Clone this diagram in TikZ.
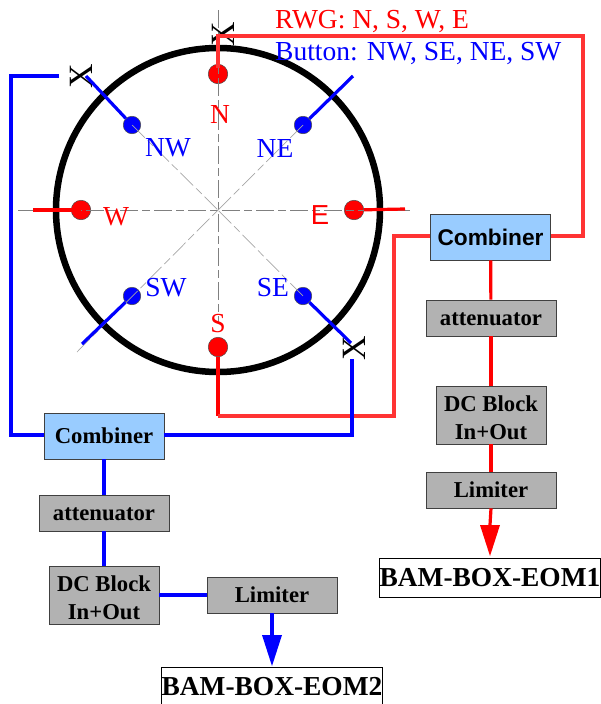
\documentclass[tikz,border=0pt]{standalone}
\usepackage{fontspec}
\setmainfont{Liberation Serif}
\setsansfont{Liberation Sans}
\usepackage{tikz}
\definecolor{lineRed}{RGB}{255,51,51}
\definecolor{boxBlue}{RGB}{153,204,255}
\definecolor{boxGray}{RGB}{178,178,178}
\begin{document}
\begin{tikzpicture}[x=1pt,y=1pt]
\tikzstyle{every node}+=[inner sep=0pt]
\tikzstyle{guide}=[gray,line width=0.7pt,dash pattern=on 18pt off 4pt on 8pt off 4pt]
\tikzstyle{diagguide}=[gray!70,line width=0.7pt,dash pattern=on 18pt off 4pt on 8pt off 4pt]
\tikzstyle{redport}=[circle,draw=black!70,line width=0.5pt,fill=red,minimum size=19.5pt]
\tikzstyle{blueport}=[circle,draw=black!70,line width=0.5pt,fill=blue,minimum size=17.5pt]
\tikzstyle{redlabel}=[text=red,font=\fontsize{27.5}{27.5}\selectfont]
\tikzstyle{bluelabel}=[text=blue,font=\fontsize{27.5}{27.5}\selectfont]
\tikzstyle{combiner}=[draw=black!75,line width=0.9pt,fill=boxBlue,minimum width=120pt,minimum height=46pt]
\tikzstyle{grayblock}=[draw=black!75,line width=0.6pt,fill=boxGray,minimum width=130pt,minimum height=36pt,font=\fontsize{22.7}{28}\selectfont\bfseries,align=center]
\tikzstyle{singleblock}=[grayblock,text height=16pt]
\tikzstyle{dcblock}=[grayblock,minimum width=110pt,minimum height=58pt]
\tikzstyle{output}=[draw=black,line width=0.6pt,fill=white,minimum width=221pt,minimum height=39pt,font=\fontsize{27.4}{27.4}\selectfont\bfseries]
\tikzstyle{redline}=[lineRed,line width=3.2pt]
\tikzstyle{blueline}=[blue,line width=3.2pt]
\tikzstyle{crossmark}=[rotate=90,font=\fontsize{34}{34}\selectfont]
\useasboundingbox (0,0) rectangle (600,-704);
\coordinate (center) at (218,-210);
\coordinate (guideN) at (218,-10);
\coordinate (guideS) at (218,-322);
\coordinate (guideW) at (18,-210);
\coordinate (guideE) at (410,-210);
\coordinate (guideNW) at (132,-125);
\coordinate (guideNE) at (303,-125);
\coordinate (guideSW) at (77,-352);
\coordinate (guideSE) at (303,-296);
\draw [black,line width=6.5pt] (center) circle (162);
\node [redport] (portN) at (218,-74) {};
\node [redport] (portS) at (218,-347) {};
\node [redport] (portW) at (81,-210) {};
\node [redport] (portE) at (354,-210) {};
\node [blueport] (portNW) at (132,-125) {};
\node [blueport] (portNE) at (303,-125) {};
\node [blueport] (portSW) at (132,-296) {};
\node [blueport] (portSE) at (303,-296) {};
\draw [guide] (guideN) -- (guideS);
\draw [guide] (guideW) -- (guideE);
\draw [diagguide] (guideNW) -- (center);
\draw [diagguide] (guideNE) -- (center);
\draw [diagguide] (guideSW) -- (center);
\draw [diagguide] (guideSE) -- (center);
\node [redlabel] (labelN) at (220,-114) {N};
\node [redlabel] (labelS) at (218,-324) {S};
\node [redlabel] (labelW) at (116,-217) {W};
\node [redlabel,font=\sffamily\fontsize{27.5}{27.5}\selectfont] (labelE) at (320,-215) {E};
\node [bluelabel] (labelNW) at (168,-148) {NW};
\node [bluelabel] (labelNE) at (275,-148) {NE};
\node [bluelabel] (labelSW) at (166,-288) {SW};
\node [bluelabel] (labelSE) at (273,-288) {SE};
\node [redlabel,anchor=west] (legendRed) at (275,-22) {RWG: N, S, W, E};
\node [bluelabel,anchor=west] (legendBlue) at (275,-54) {Button: NW, SE, NE, SW};
\node [crossmark] (crossN) at (223,-34) {X};
\node [crossmark] (crossNW) at (81,-76) {X};
\node [crossmark] (crossSE) at (354,-348) {X};
\node [combiner,font=\sffamily\fontsize{22.7}{22.7}\selectfont\bfseries] (combinerRed) at (490.5,-237) {Combiner};
\node [singleblock] (attRed) at (491,-318) {attenuator};
\node [dcblock] (blockRed) at (491,-415) {\rule{0pt}{21pt}DC Block\\In+Out};
\node [singleblock] (limiterRed) at (491,-490) {Limiter};
\node [output] (outRed) at (490,-577.5) {BAM-BOX-EOM1};
\node [combiner,font=\fontsize{22.7}{22.7}\selectfont\bfseries] (combinerBlue) at (104,-436) {Combiner};
\node [singleblock] (attBlue) at (104,-513) {attenuator};
\node [dcblock] (blockBlue) at (104,-595) {\rule{0pt}{21pt}DC Block\\In+Out};
\node [singleblock] (limiterBlue) at (272,-595) {Limiter};
\node [output] (outBlue) at (272,-686.5) {BAM-BOX-EOM2};
\coordinate (stubW) at (33,-210);
\coordinate (stubE) at (405,-209);
\coordinate (stubNE) at (353,-76);
\coordinate (stubSW) at (82,-344);
\coordinate (endNW) at (86,-76);
\coordinate (endSE) at (351,-343);
\coordinate (wireN) at (218,-68);
\coordinate (wireNW) at (59,-76);
\coordinate (wireSE) at (352,-359);
\coordinate (tipRed) at (490,-556);
\coordinate (tipBlue) at (272,-666);
\draw [redline,red] (portW.center) -- (stubW);
\draw [redline,red] (portE) -- (stubE);
\draw [redline] (wireN) -- (218,-36) -- (583,-36) -- (583,-236) -- (combinerRed.east |- 0,-236);
\draw [redline,red] (portS) -- (218,-416);
\draw [redline] (218,-416) -- (394,-416) -- (394,-236) -- (combinerRed.west |- 0,-236);
\draw [redline,red] (combinerRed) -- (attRed);
\draw [redline,red] (attRed) -- (blockRed);
\draw [redline,red] (blockRed) -- (limiterRed);
\draw [redline,red] (limiterRed.south) -- (490,-525);
\fill [red] (tipRed) -- (480,-525) -- (500,-525) -- cycle;
\draw [blueline] (portNW) -- (endNW);
\draw [blueline] (portNE) -- (stubNE);
\draw [blueline] (portSW) -- (stubSW);
\draw [blueline] (portSE) -- (endSE);
\draw [blueline] (wireNW) -- (11,-76) -- (11,-435) -- (combinerBlue.west |- 0,-435);
\draw [blueline] (wireSE) -- (352,-435) -- (combinerBlue.east |- 0,-435);
\draw [blueline] (combinerBlue) -- (attBlue);
\draw [blueline] (attBlue) -- (blockBlue);
\draw [blueline] (blockBlue) -- (limiterBlue);
\draw [blueline] (limiterBlue.south) -- (272,-635);
\fill [blue] (tipBlue) -- (262,-635) -- (282,-635) -- cycle;
\end{tikzpicture}
\end{document}
